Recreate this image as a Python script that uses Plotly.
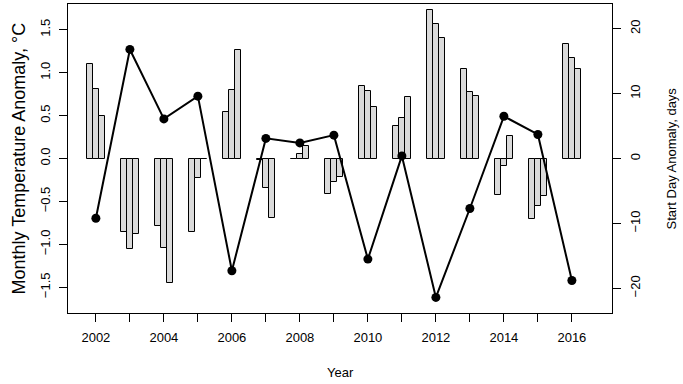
import plotly.graph_objects as go

years = list(range(2002, 2017))
# monthly temperature anomalies (three months per year), degC
month1 = [1.10, -0.86, -0.79, -0.86, 0.54, -0.02, 0.00, -0.41, 0.84, 0.38, 1.73, 1.04, -0.42, -0.70, 1.33]
month2 = [0.81, -1.06, -1.04, -0.23, 0.80, -0.34, 0.05, -0.27, 0.79, 0.47, 1.57, 0.77, -0.09, -0.55, 1.17]
month3 = [0.49, -0.88, -1.45, -0.01, 1.26, -0.69, 0.14, -0.21, 0.60, 0.72, 1.40, 0.73, 0.26, -0.44, 1.04]
# start day anomaly, days
start_day = [-9.2, 16.8, 6.1, 9.6, -17.3, 3.1, 2.4, 3.6, -15.5, 0.4, -21.4, -7.7, 6.5, 3.7, -18.8]

offsets = [-0.18, 0.0, 0.18]
bar_w = 0.18
FONT = "Liberation Sans, Arial, Helvetica, sans-serif"

fig = go.Figure()
for off, vals in zip(offsets, [month1, month2, month3]):
    fig.add_trace(go.Bar(
        x=[y + off for y in years], y=vals, width=bar_w,
        marker=dict(color="#dadada", line=dict(color="black", width=1)),
        yaxis="y", showlegend=False))

fig.add_trace(go.Scatter(
    x=years, y=start_day, mode="lines+markers", yaxis="y2",
    line=dict(color="black", width=2),
    marker=dict(color="black", size=9),
    showlegend=False))

L, R, T, B = 68, 71, 4, 71
W, H = 683, 384
pw = W - L - R

def px(p):
    return (p - L) / pw

fig.update_layout(
    width=W, height=H,
    margin=dict(l=L, r=R, t=T, b=B),
    paper_bgcolor="white", plot_bgcolor="white",
    barmode="overlay", bargap=0,
    font=dict(family=FONT, size=13, color="black"),
    xaxis=dict(range=[2001.18, 2017.18], tickvals=years,
               ticktext=[str(y) if y % 2 == 0 else "" for y in years],
               ticks="outside", ticklen=8, tickcolor="black", tickwidth=1,
               showline=True, linecolor="black", linewidth=1, mirror=True,
               showgrid=False, zeroline=False, ticklabelstandoff=4,
               tickfont=dict(size=13)),
    yaxis=dict(range=[-1.80, 1.80], tickvals=[-1.5, -1.0, -0.5, 0.0, 0.5, 1.0, 1.5],
               tickformat=".1f", tickangle=-90,
               ticks="outside", ticklen=8, tickcolor="black", tickwidth=1,
               showline=True, linecolor="black", linewidth=1, mirror=True,
               showgrid=False, zeroline=False, ticklabelstandoff=4,
               tickfont=dict(size=13)),
    yaxis2=dict(range=[-23.8, 23.8], overlaying="y", side="right",
                tickvals=[-20, -10, 0, 10, 20], tickangle=-90,
                ticks="outside", ticklen=8, tickcolor="black", tickwidth=1,
                showline=True, linecolor="black", linewidth=1,
                showgrid=False, zeroline=False, ticklabelstandoff=3,
                tickfont=dict(size=13)),
    annotations=[
        dict(text="Monthly Temperature Anomaly, °C", xref="paper", yref="paper",
             x=px(18), y=0.5, textangle=-90, showarrow=False,
             xanchor="center", yanchor="middle", font=dict(size=18)),
        dict(text="Start Day Anomaly, days", xref="paper", yref="paper",
             x=px(671), y=0.5, textangle=-90, showarrow=False,
             xanchor="center", yanchor="middle", font=dict(size=13)),
        dict(text="Year", xref="paper", yref="paper",
             x=px(340), y=-(372 - 313) / (H - T - B), showarrow=False,
             xanchor="center", yanchor="middle", font=dict(size=13)),
    ],
)

fig.write_html("out.html", config={"displayModeBar": False},
               post_script="document.body.style.margin='0';")
